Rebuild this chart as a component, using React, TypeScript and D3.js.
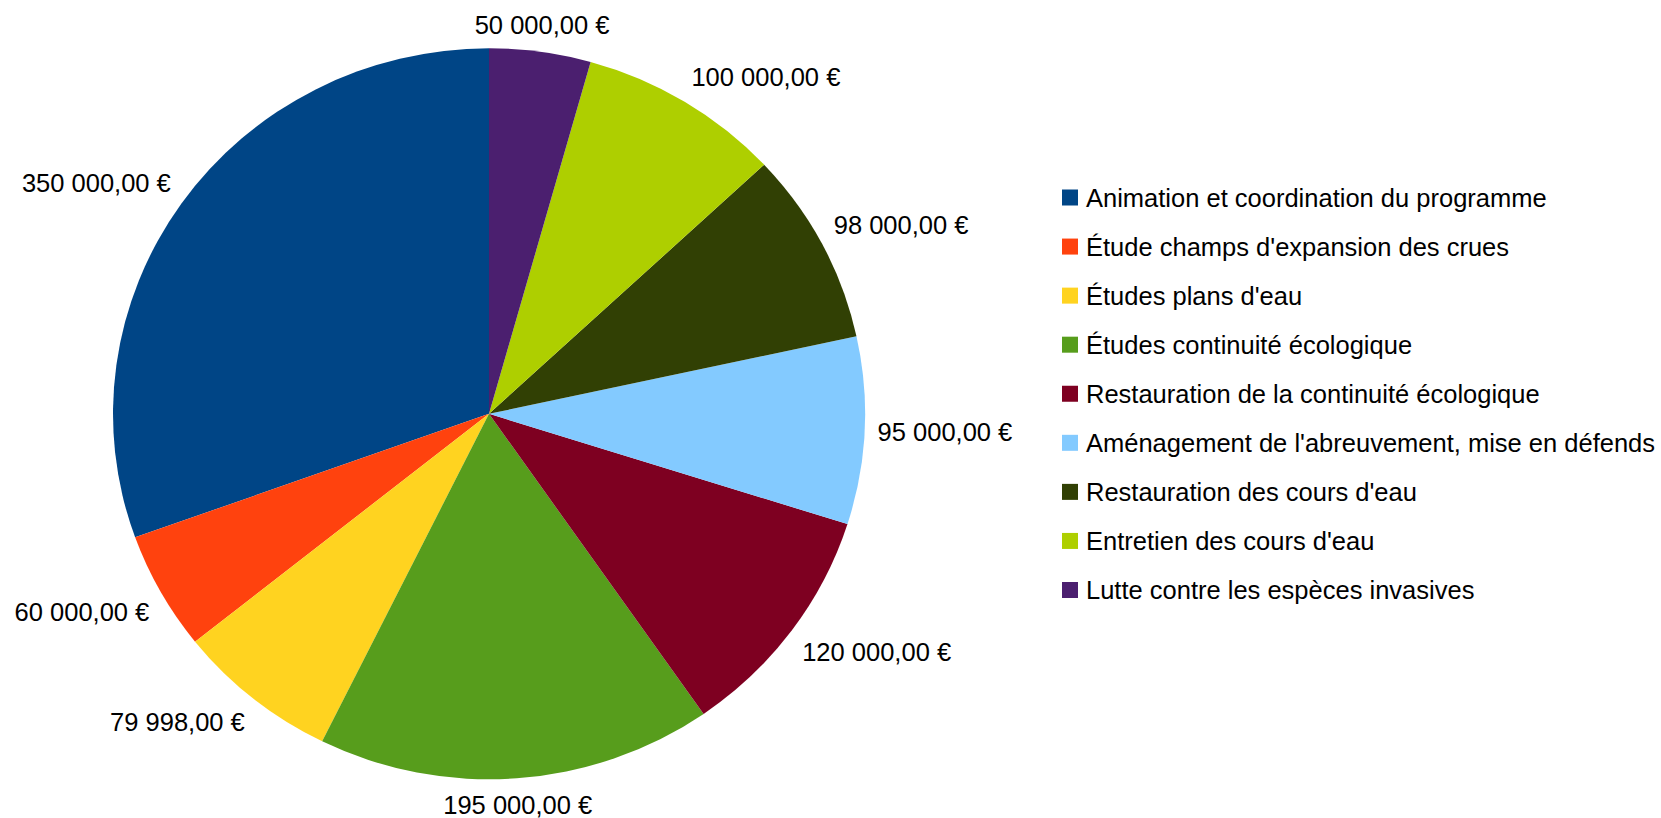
import React from 'react';
import * as d3 from 'd3';

const categories = [
  'Animation et coordination du programme',
  "Étude champs d'expansion des crues",
  "Études plans d'eau",
  'Études continuité écologique',
  'Restauration de la continuité écologique',
  "Aménagement de l'abreuvement, mise en défends",
  "Restauration des cours d'eau",
  "Entretien des cours d'eau",
  'Lutte contre les espèces invasives',
];
const values = [350000, 60000, 79998, 195000, 120000, 95000, 98000, 100000, 50000];
const colors = ['#004586', '#ff420e', '#ffd320', '#579d1c', '#7e0021', '#83caff', '#314004', '#aecf00', '#4b1f6f'];

const W = 1661;
const H = 818;
const cx = 489;
const cy = 413.8;
const ry = 365.5;
const rx = 376;
const fontSize = 25.5;
const font = '"Liberation Sans", Arial, sans-serif';

const fr = d3.formatLocale({ decimal: ',', thousands: '\u00a0', grouping: [3], currency: ['', '\u00a0€'] });
const money = fr.format('$,.2f');

const App: React.FC = () => {
  // counter-clockwise from 12 o'clock, in the data order
  const pie = d3.pie<number>().sort(null).startAngle(0).endAngle(-2 * Math.PI);
  const arcs = pie(values);
  const arc = d3.arc<d3.PieArcDatum<number>>().innerRadius(0).outerRadius(ry);

  const legendY = d3.scaleLinear().domain([0, categories.length - 1]).range([197.5, 590]);

  return (
    <svg width={W} height={H} style={{ position: 'absolute', left: 0, top: 0 }} fontFamily={font} fontSize={fontSize}>
      <rect width={W} height={H} fill="#fff" />
      <g transform={`translate(${cx},${cy}) scale(${rx / ry},1)`}>
        {arcs.map((a, i) => (
          <path key={`slice-${i}`} d={arc(a) || ''} fill={colors[i]} />
        ))}
      </g>

      {/* Value labels outside the pie */}
      {arcs.map((a, i) => {
        const m = (a.startAngle + a.endAngle) / 2;
        const dx = Math.sin(m);
        const dy = -Math.cos(m);
        const ax = cx + dx * (rx + 13);
        const ay = cy + dy * (ry + 14.5);
        let deg = (90 - (m * 180) / Math.PI) % 360;
        if (deg < 0) deg += 360;
        let anchor: 'start' | 'middle' | 'end' = 'middle';
        let vy = 0;
        if (deg <= 22.5 || deg >= 337.5) { anchor = 'start'; vy = 0; }
        else if (deg <= 67.5) { anchor = 'start'; vy = -1; }
        else if (deg < 112.5) { anchor = 'middle'; vy = -1; }
        else if (deg <= 157.5) { anchor = 'end'; vy = -1; }
        else if (deg <= 202.5) { anchor = 'end'; vy = 0; }
        else if (deg < 247.5) { anchor = 'end'; vy = 1; }
        else if (deg < 292.5) { anchor = 'middle'; vy = 1; }
        else { anchor = 'start'; vy = 1; }
        const capMid = ay + vy * 12.5;
        return (
          <text key={`label-${i}`} x={ax} y={capMid + 0.358 * fontSize} textAnchor={anchor} fill="#000">
            {money(values[i])}
          </text>
        );
      })}

      {/* Legend */}
      {categories.map((c, i) => (
        <g key={`legend-${i}`}>
          <rect x={1062} y={legendY(i) - 8} width={16} height={16} fill={colors[i]} />
          <text x={1086} y={legendY(i) + 0.358 * fontSize} fill="#000">{c}</text>
        </g>
      ))}
    </svg>
  );
};

export default App;
